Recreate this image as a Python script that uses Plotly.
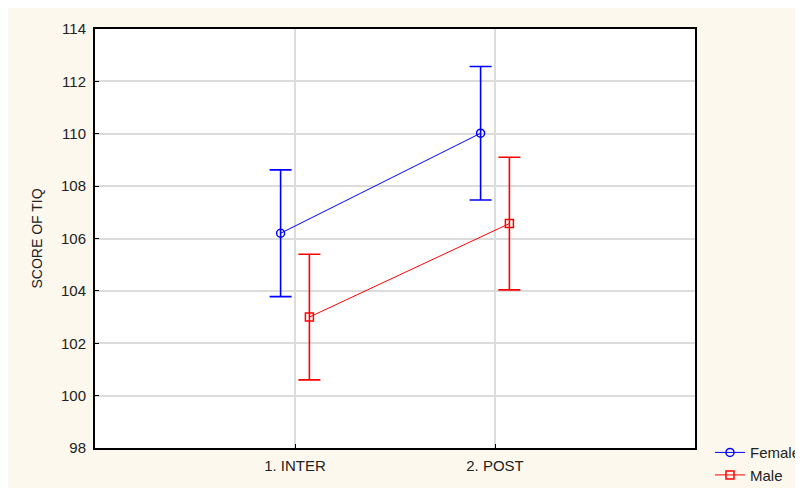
import plotly.graph_objects as go

categories = ["1. INTER", "2. POST"]
female_mean = [106.2, 110.02]
female_err = [2.42, 2.55]
male_mean = [103.0, 106.57]
male_err = [2.4, 2.53]
y_ticks = [98, 100, 102, 104, 106, 108, 110, 112, 114]

cat_pos = [i + 1 for i in range(len(categories))]
off = 0.072

fig = go.Figure()
fig.add_trace(go.Scatter(
    x=[p - off for p in cat_pos], y=female_mean, name="Female",
    mode="lines+markers", legendgroup="f",
    line=dict(color="#0000ff", width=1),
    marker=dict(symbol="circle-open", size=8, color="#0000ff", line=dict(width=1.5)),
    error_y=dict(type="data", array=female_err, color="#0000ff", thickness=1.6, width=11),
))
fig.add_trace(go.Scatter(
    x=[p + off for p in cat_pos], y=male_mean, name="Male",
    mode="lines+markers", legendgroup="m",
    line=dict(color="#ff0000", width=1),
    marker=dict(symbol="square-open", size=8, color="#ff0000", line=dict(width=1.5)),
    error_y=dict(type="data", array=male_err, color="#ff0000", thickness=1.6, width=11),
))

fig.update_layout(
    width=795, height=480,
    margin=dict(l=87, r=108, t=16, b=40),
    paper_bgcolor="#fdf8ee", plot_bgcolor="white",
    font=dict(family="Liberation Sans, Arial, sans-serif", size=15, color="#222"),
    showlegend=True,
    legend=dict(xref="container", yref="container", x=0.883, y=0.108,
                xanchor="left", yanchor="top",
                bgcolor="rgba(0,0,0,0)", font=dict(size=15),
                tracegroupgap=0, itemwidth=30),
    xaxis=dict(range=[0, 3], tickvals=cat_pos, ticktext=categories,
               showgrid=True, gridcolor="#dcdcdc", gridwidth=1.5,
               showline=True, linecolor="black", linewidth=2, mirror=True,
               ticks="inside", ticklen=4, tickcolor="black", zeroline=False,
               ticklabelstandoff=3),
    yaxis=dict(range=[98, 114], tickvals=y_ticks,
               showgrid=True, gridcolor="#dcdcdc", gridwidth=1.5,
               showline=True, linecolor="black", linewidth=2, mirror=True,
               ticks="inside", ticklen=4, tickcolor="black", zeroline=False,
               ticklabelstandoff=4,
               title=dict(text="SCORE OF TIQ", font=dict(size=14), standoff=15)),
)

fig.write_html("out.html")
